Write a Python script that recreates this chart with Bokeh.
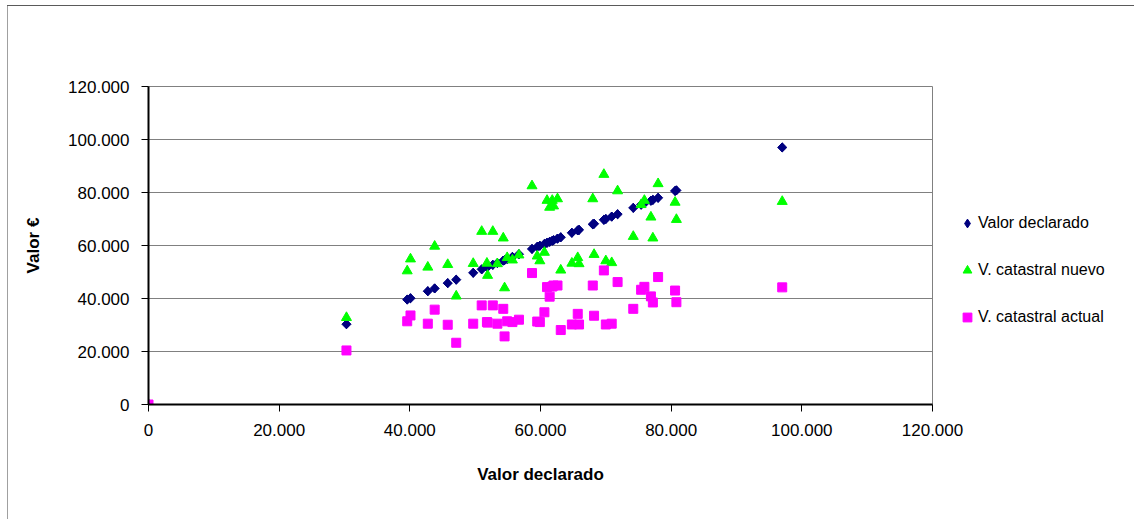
import math
from bokeh.plotting import figure
from bokeh.models import Legend, LegendItem, FixedTicker
from bokeh.embed import file_html
from bokeh.resources import INLINE

# Shared x: valor declarado (EUR)
valor_declarado = [0, 30300, 39600, 40100, 42750, 43800, 45800, 47100, 49700, 51000,
                   51800, 51900, 52700, 53400, 54300, 54500, 54900, 55700, 56700, 58700,
                   59500, 59900, 60600, 61000, 61400, 61800, 62000, 62600, 63100, 64800,
                   65700, 65900, 68000, 68200, 69700, 70000, 70900, 71800, 74200, 75400,
                   75900, 76900, 77200, 78000, 80600, 80800, 97000]
catastral_nuevo = [0, 32800, 50400, 54900, 51800, 59700, 52800, 40900, 53200, 65300,
                   53300, 48700, 65300, 53100, 62800, 44000, 55400, 54500, 56400, 82500,
                   56000, 54200, 57400, 77000, 74400, 77000, 74900, 77600, 50700, 53300,
                   55400, 53100, 77600, 56600, 86800, 54200, 53500, 80600, 63400, 75400,
                   77000, 70700, 62800, 83300, 76300, 69800, 76600]
catastral_actual = [0, 20400, 31400, 33600, 30500, 35800, 30100, 23300, 30500, 37400,
                    31100, 30900, 37400, 30500, 36100, 25700, 31400, 31100, 32000, 49600,
                    31300, 31100, 34800, 44300, 40700, 44500, 44900, 44900, 28100, 30200,
                    34200, 30200, 44900, 33500, 50600, 30200, 30500, 46200, 36100, 43300,
                    44400, 40800, 38500, 48100, 43000, 38600, 44200]

series_names = ["Valor declarado", "V. catastral nuevo", "V. catastral actual"]
tick_values = [0, 20000, 40000, 60000, 80000, 100000, 120000]
tick_labels = ["0", "20.000", "40.000", "60.000", "80.000", "100.000", "120.000"]
x_title = "Valor declarado"
y_title = "Valor €"

FONT = "Liberation Sans"

p = figure(frame_width=784, frame_height=318, output_backend="svg", toolbar_location=None,
           x_range=(0, 120000), y_range=(0, 120000),
           min_border_left=148, min_border_right=202, min_border_top=86, min_border_bottom=115)
p.background_fill_color = "white"
p.border_fill_alpha = 0
p.outline_line_color = "#808080"
p.outline_line_width = 1
p.styles = {"background": "linear-gradient(#5a5a5a, #5a5a5a) 7px 5px / 100% 1px no-repeat, "
                          "linear-gradient(#a0a0a0, #a0a0a0) 7px 5px / 1px 100% no-repeat, white"}

# diamond glyph (used by the legend); fully covered by the rotated squares below
r1_leg = p.scatter(valor_declarado, valor_declarado, marker="diamond", size=9,
                   fill_color="#000080", line_color="#000080")
r1 = p.scatter(valor_declarado, valor_declarado, marker="square", size=6.5, angle=math.pi / 4,
               fill_color="#000080", line_color="#000080")
r2 = p.scatter(valor_declarado, catastral_nuevo, marker="triangle", size=10,
               fill_color="#00FF00", line_color="#00FF00")
r3 = p.scatter(valor_declarado, catastral_actual, marker="square", size=9,
               fill_color="#FF00FF", line_color="#FF00FF")

for ax in (p.xaxis[0], p.yaxis[0]):
    ax.ticker = FixedTicker(ticks=tick_values)
    ax.major_label_overrides = {v: l for v, l in zip(tick_values, tick_labels)}
    ax.axis_line_color = "black"
    ax.axis_line_width = 2
    ax.major_tick_line_color = "black"
    ax.major_tick_out = 7
    ax.major_tick_in = 0
    ax.minor_tick_line_color = None
    ax.major_label_text_font = FONT
    ax.major_label_text_font_size = "17px"
    ax.major_label_text_color = "black"
    ax.axis_label_text_font = FONT
    ax.axis_label_text_font_size = "17px"
    ax.axis_label_text_font_style = "bold"
    ax.axis_label_text_color = "black"

p.xaxis.axis_label = x_title
p.yaxis.axis_label = y_title
p.xaxis.major_label_standoff = 12
p.yaxis.major_label_standoff = 12
p.xaxis.axis_label_standoff = 26
p.yaxis.axis_label_standoff = 22

p.xgrid.grid_line_color = None
p.ygrid.ticker = FixedTicker(ticks=tick_values)
p.ygrid.grid_line_color = "#808080"
p.ygrid.grid_line_width = 1

legend = Legend(items=[LegendItem(label=series_names[0], renderers=[r1_leg]),
                       LegendItem(label=series_names[1], renderers=[r2]),
                       LegendItem(label=series_names[2], renderers=[r3])],
                location=(24, 75), orientation="vertical")
legend.border_line_color = None
legend.background_fill_alpha = 0
legend.padding = 0
legend.margin = 0
legend.spacing = 23
legend.glyph_width = 22
legend.glyph_height = 24
legend.label_height = 24
legend.label_standoff = 0
legend.label_width = 140
legend.label_text_font = FONT
legend.label_text_font_size = "16px"
legend.label_text_color = "black"
p.add_layout(legend, "right")

open("out.html", "w").write(file_html(p, INLINE))
